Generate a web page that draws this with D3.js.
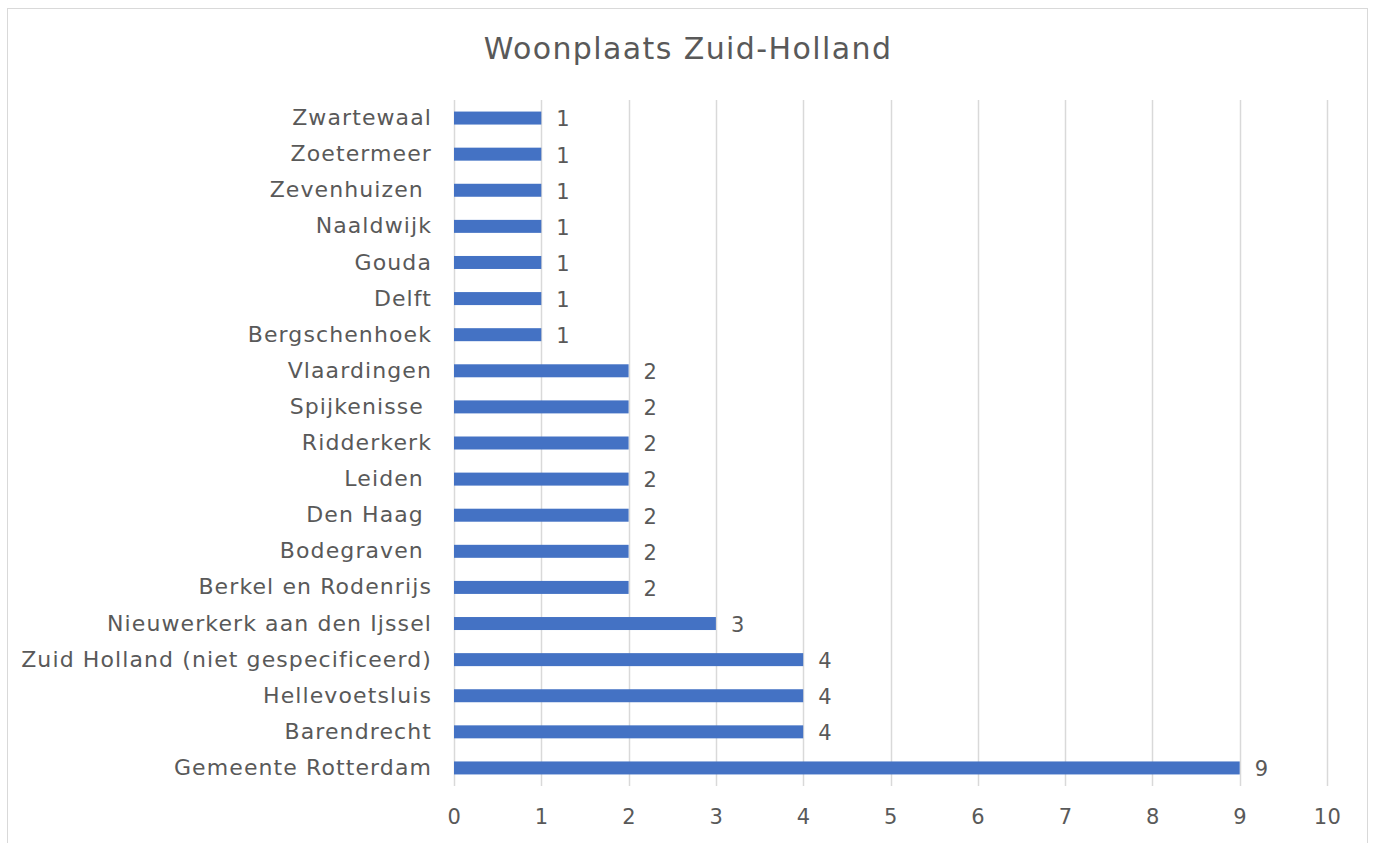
<!DOCTYPE html>
<html>
<head>
<meta charset="utf-8">
<script src="https://cdn.jsdelivr.net/npm/d3@7"></script>
<style>
  html, body { margin: 0; padding: 0; background: #fff; }
  svg text { font-family: "DejaVu Sans", sans-serif; white-space: pre; }
</style>
</head>
<body>
<svg id="chart" width="1377" height="843"></svg>
<script>
const categories = [
  "Zwartewaal", "Zoetermeer", "Zevenhuizen ", "Naaldwijk", "Gouda", "Delft",
  "Bergschenhoek", "Vlaardingen", "Spijkenisse ", "Ridderkerk", "Leiden ",
  "Den Haag ", "Bodegraven ", "Berkel en Rodenrijs", "Nieuwerkerk aan den Ijssel",
  "Zuid Holland (niet gespecificeerd)", "Hellevoetsluis", "Barendrecht", "Gemeente Rotterdam"
];
const values = [1, 1, 1, 1, 1, 1, 1, 2, 2, 2, 2, 2, 2, 2, 3, 4, 4, 4, 9];
const xTicks = [0, 1, 2, 3, 4, 5, 6, 7, 8, 9, 10];
const title = "Woonplaats Zuid-Holland";

(function () {
const svg = d3.select("#chart");
const textColor = "#595959";
const fontFamily = '"DejaVu Sans", sans-serif';
const labelSize = 22;
const labelSpacing = "1.1px";

// chart frame
svg.append("rect")
  .attr("x", 7.5).attr("y", 8.5)
  .attr("width", 1360).attr("height", 840)
  .attr("fill", "#fff").attr("stroke", "#d9d9d9").attr("stroke-width", 1);

const pLeft = 454, pRight = 1327, pTop = 100, pBottom = 786;

const x = d3.scaleLinear().domain([0, 10]).range([pLeft, pRight]);
const y = d3.scaleBand().domain(categories).range([pTop, pBottom]).paddingInner(0.64).paddingOuter(0.32);

// gridlines
svg.append("g").selectAll("line").data(xTicks).join("line")
  .attr("x1", d => Math.round(x(d)) + 0.5).attr("x2", d => Math.round(x(d)) + 0.5)
  .attr("y1", pTop).attr("y2", pBottom)
  .attr("stroke", "#d9d9d9").attr("stroke-width", 1.5);

// x tick labels
const xAxis = d3.axisBottom(x).tickValues(xTicks).tickSize(0).tickPadding(0);
const gx = svg.append("g").attr("transform", `translate(0, ${pBottom + 31})`).call(xAxis);
gx.select(".domain").remove();
gx.selectAll("text")
  .attr("dy", "0.35em")
  .attr("font-size", 21)
  .attr("fill", textColor)
  .style("letter-spacing", "0.5px")
  .style("font-family", fontFamily);

// y labels
const yAxis = d3.axisLeft(y).tickSize(0).tickPadding(0);
const gy = svg.append("g").attr("transform", `translate(${pLeft - 22}, 0)`).call(yAxis);
gy.select(".domain").remove();
gy.selectAll("text")
  .attr("font-size", labelSize)
  .attr("fill", textColor)
  .style("letter-spacing", labelSpacing)
  .style("font-family", fontFamily);

// bars
svg.append("g").selectAll("rect").data(categories).join("rect")
  .attr("x", x(0))
  .attr("y", d => y(d))
  .attr("width", (d, i) => x(values[i]) - x(0))
  .attr("height", y.bandwidth())
  .attr("fill", "#4472c4");

// value labels
svg.append("g").selectAll("text").data(categories).join("text")
  .attr("x", (d, i) => x(values[i]) + 15)
  .attr("y", d => y(d) + y.bandwidth() / 2 + 1)
  .attr("dy", "0.35em")
  .attr("font-size", 21)
  .attr("fill", textColor)
  .text((d, i) => values[i]);

// title
svg.append("text")
  .attr("x", 688).attr("y", 48)
  .attr("dy", "0.35em")
  .attr("text-anchor", "middle")
  .attr("font-size", 30)
  .style("letter-spacing", "1.4px")
  .attr("fill", textColor)
  .text(title);
})();
</script>
</body>
</html>
